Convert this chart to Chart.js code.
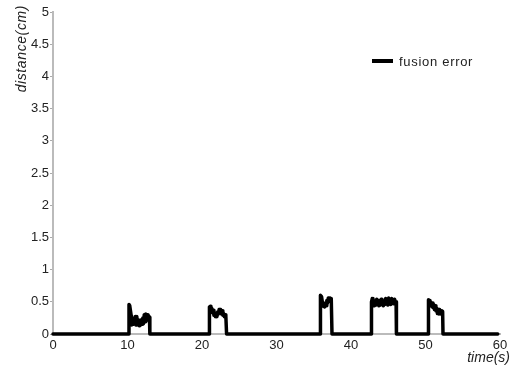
<!DOCTYPE html>
<html>
<head>
<meta charset="utf-8">
<script src="https://cdn.jsdelivr.net/npm/chart.js@4"></script>
<style>
  html, body { margin: 0; padding: 0; background: #fff; }
  #wrap { width: 515px; height: 369px; position: relative; }
</style>
</head>
<body>
<div id="wrap"><canvas id="errChart"></canvas></div>
<script>
// =======================================================
// Données
// =======================================================

const xTickLabels = ["0", "10", "20", "30", "40", "50", "60"];
const yTickLabels = ["0", "0.5", "1", "1.5", "2", "2.5", "3", "3.5", "4", "4.5", "5"];
const seriesLabel = "fusion error";

// repos avant les pics
const restTime = [0, 10.15];
const restDist = [0, 0];

const burst1Time = [10.2, 10.3, 10.4, 10.5, 10.55, 10.65, 10.75, 10.85, 10.95, 11.05, 11.15, 11.25, 11.35, 11.45, 11.55, 11.65, 11.75, 11.85, 11.95, 12.05, 12.15, 12.25, 12.35, 12.45, 12.55, 12.65, 12.75, 12.85, 12.95, 13.0, 20.95];
const burst1Dist = [0.46, 0.44, 0.36, 0.28, 0.14, 0.22, 0.15, 0.24, 0.16, 0.27, 0.14, 0.27, 0.16, 0.22, 0.13, 0.2, 0.14, 0.22, 0.15, 0.25, 0.16, 0.3, 0.19, 0.31, 0.21, 0.3, 0.22, 0.28, 0.26, 0, 0];

const burst2Time = [21.0, 21.1, 21.2, 21.3, 21.4, 21.5, 21.6, 21.7, 21.8, 21.9, 22.0, 22.1, 22.2, 22.3, 22.4, 22.5, 22.6, 22.7, 22.8, 22.9, 23.0, 23.1, 23.2, 23.3, 35.85];
const burst2Dist = [0.42, 0.43, 0.37, 0.4, 0.33, 0.37, 0.29, 0.33, 0.27, 0.3, 0.27, 0.34, 0.31, 0.38, 0.33, 0.38, 0.31, 0.36, 0.29, 0.32, 0.27, 0.3, 0.28, 0, 0];

const burst3Time = [35.9, 36.05, 36.15, 36.25, 36.35, 36.45, 36.55, 36.65, 36.75, 36.85, 36.95, 37.05, 37.15, 37.25, 37.35, 37.45, 42.7];
const burst3Dist = [0.6, 0.58, 0.5, 0.43, 0.48, 0.42, 0.46, 0.44, 0.52, 0.48, 0.56, 0.51, 0.56, 0.52, 0.55, 0, 0];

const burst4Time = [42.75, 42.85, 42.95, 43.05, 43.15, 43.25, 43.35, 43.45, 43.55, 43.65, 43.75, 43.85, 43.95, 44.05, 44.15, 44.25, 44.35, 44.45, 44.55, 44.65, 44.75, 44.85, 44.95, 45.05, 45.15, 45.25, 45.35, 45.45, 45.55, 45.65, 45.75, 45.85, 45.95, 46.05, 46.1, 50.35];
const burst4Dist = [0.5, 0.55, 0.47, 0.52, 0.44, 0.5, 0.45, 0.54, 0.46, 0.52, 0.44, 0.5, 0.45, 0.54, 0.47, 0.52, 0.44, 0.5, 0.46, 0.55, 0.47, 0.54, 0.45, 0.56, 0.48, 0.54, 0.46, 0.55, 0.48, 0.52, 0.47, 0.54, 0.5, 0.5, 0, 0];

const burst5Time = [50.4, 50.5, 50.6, 50.7, 50.8, 50.9, 51.0, 51.1, 51.2, 51.3, 51.4, 51.5, 51.6, 51.7, 51.8, 51.9, 52.0, 52.1, 52.2, 52.3, 52.35, 59.7];
const burst5Dist = [0.53, 0.52, 0.47, 0.5, 0.43, 0.48, 0.41, 0.46, 0.38, 0.44, 0.36, 0.4, 0.32, 0.38, 0.31, 0.38, 0.32, 0.36, 0.3, 0.35, 0, 0];


// =======================================================
// Construction de la série
// =======================================================

const timeVals = [].concat(restTime, burst1Time, burst2Time, burst3Time, burst4Time, burst5Time);
const distVals = [].concat(restDist, burst1Dist, burst2Dist, burst3Dist, burst4Dist, burst5Dist);
const points = timeVals.map((t, i) => ({x: t, y: distVals[i]}));


// titres d'axes et légende dessinés à la main (placement de la figure)
const figureText = {
    id: "figureText",
    afterDraw(chart){
        const ctx = chart.ctx;
        ctx.save();
        ctx.fillStyle = "#222";

        // légende
        ctx.strokeStyle = "#000";
        ctx.lineWidth = 4;
        ctx.beginPath();
        ctx.moveTo(372, 61);
        ctx.lineTo(393, 61);
        ctx.stroke();
        ctx.font = "13px 'Liberation Sans', Arial, sans-serif";
        ctx.letterSpacing = "0.7px";
        ctx.textAlign = "left";
        ctx.textBaseline = "middle";
        ctx.fillText(seriesLabel, 399, 62);

        // titre axe x
        ctx.font = "italic 14px 'Liberation Sans', Arial, sans-serif";
        ctx.letterSpacing = "0px";
        ctx.textAlign = "right";
        ctx.fillText("time(s)", 510, 358);

        // titre axe y
        ctx.translate(22, 5);
        ctx.rotate(-Math.PI / 2);
        ctx.letterSpacing = "0.6px";
        ctx.textAlign = "right";
        ctx.fillText("distance(cm)", 0, 0);
        ctx.restore();
    }
};


// =======================================================
// Graphique
// =======================================================

function drawErrorChart(){

    new Chart(document.getElementById("errChart"), {

        type: "line",

        data: {
            datasets: [{
                label: seriesLabel,
                data: points,
                borderColor: "#000",
                borderWidth: 3.5,
                pointRadius: 0,
                tension: 0,
                clip: false,
                borderJoinStyle: "round",
                borderCapStyle: "round"
            }]
        },

        options: {
            responsive: true,
            maintainAspectRatio: false,
            animation: false,
            events: [],
            layout: { padding: { left: 0, right: 15, top: 12, bottom: 0 } },
            plugins: {
                legend: { display: false },
                tooltip: { enabled: false }
            },
            scales: {
                x: {
                    type: "linear",
                    min: 0,
                    max: 60,
                    afterFit: s => { s.height = 35; },
                    afterBuildTicks: s => { s.ticks = xTickLabels.map(v => ({value: Number(v)})); },
                    ticks: {
                        color: "#222",
                        padding: 4,
                        maxRotation: 0,
                        font: { family: "'Liberation Sans', Arial, sans-serif", size: 13 },
                        callback: (v, i) => xTickLabels[i]
                    },
                    grid: { drawOnChartArea: false, drawTicks: false },
                    border: { color: "#bbb", width: 2 }
                },
                y: {
                    min: 0,
                    max: 5,
                    afterFit: s => { s.width = 53; },
                    afterBuildTicks: s => { s.ticks = yTickLabels.map(v => ({value: Number(v)})); },
                    ticks: {
                        color: "#222",
                        padding: 1,
                        font: { family: "'Liberation Sans', Arial, sans-serif", size: 13 },
                        callback: (v, i) => yTickLabels[i]
                    },
                    grid: { drawOnChartArea: false, drawTicks: true, tickLength: 3, color: "#aaa" },
                    border: { color: "#bbb", width: 2 }
                }
            }
        },

        plugins: [figureText]

    });

}

window.addEventListener("load", drawErrorChart);
</script>
</body>
</html>
